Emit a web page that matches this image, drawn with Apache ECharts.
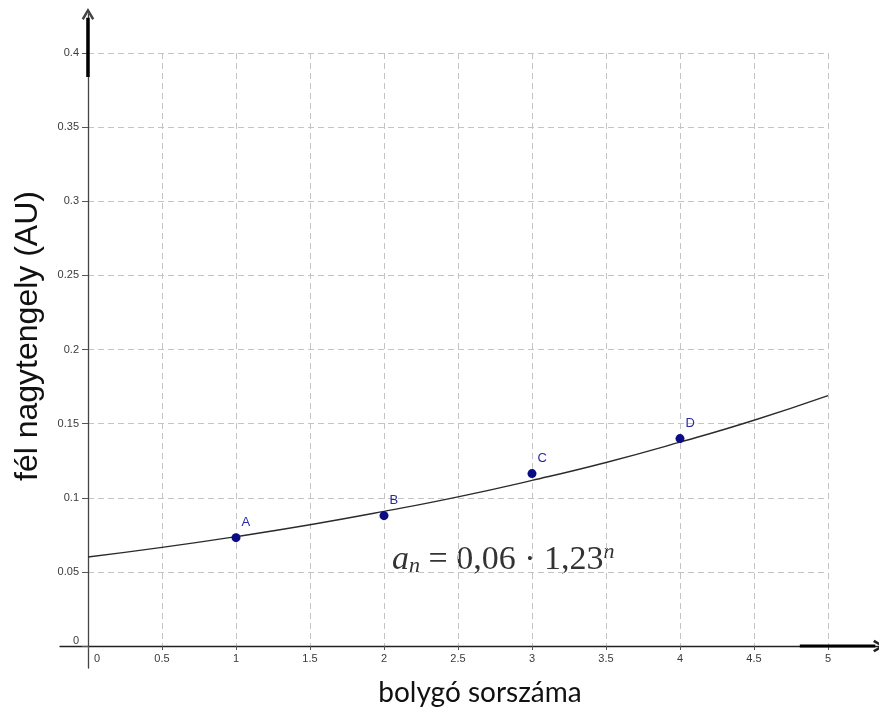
<!DOCTYPE html>
<html>
<head>
<meta charset="utf-8">
<script src="https://cdn.jsdelivr.net/npm/echarts@6/dist/echarts.min.js"></script>
<style>
  html, body { margin: 0; padding: 0; background: #fff; }
  #main { width: 879px; height: 711px; }
</style>
</head>
<body>
<div id="main"></div>
<script>
var myChart = echarts.init(document.getElementById('main'));

// points
var pointNames = ['A', 'B', 'C', 'D'];
var pointX = [1, 2, 3, 4];
var pointY = [0.0731, 0.0879, 0.1163, 0.1399];

// fitted curve a_n = 0,06 * 1,23^n
var curveX = [0, 0.5, 1, 1.5, 2, 2.5, 3, 3.5, 4, 4.5, 5];
var curveY = [0.0600, 0.0665, 0.0738, 0.0818, 0.0908, 0.1006, 0.1117, 0.1238, 0.1375, 0.1523, 0.1689];

// thick arrow shafts of the axes
var yShaft = [[0, 0.384], [0, 0.424]];
var xShaft = [[4.81, 0], [5.32, 0]];

var chevron = 'path://M0,10 L6,0 L12,10 L10,11.5 L6,4.6 L2,11.5 Z';
var tickFont = 'Liberation Sans';

var points = pointX.map(function (x, i) {
  return { name: pointNames[i], value: [x, pointY[i]] };
});
var curve = curveX.map(function (x, i) { return [x, curveY[i]]; });

option = {
  animation: false,
  backgroundColor: '#fff',
  grid: [
    { left: 88, right: 51, top: 53, bottom: 65 },
    { left: 60, right: 0, top: 14, bottom: 43 }
  ],
  xAxis: [{
    type: 'value',
    gridIndex: 0,
    min: 0,
    max: 5,
    interval: 0.5,
    axisLine: { show: false },
    axisTick: { show: true, length: 4, lineStyle: { color: '#555' } },
    axisLabel: {
      margin: 7,
      fontFamily: tickFont,
      fontSize: 11,
      color: '#3a3a3a',
      formatter: function (v) { return v === 0 ? '{z|0}' : String(v); },
      rich: { z: { padding: [0, 0, 0, 18], fontFamily: tickFont, fontSize: 11, color: '#3a3a3a' } }
    },
    splitLine: { show: true, lineStyle: { color: '#c4c4c4', type: [6, 4], width: 1 } }
  }, {
    type: 'value',
    gridIndex: 1,
    min: -0.189,
    max: 5.345,
    axisLine: { show: true, symbol: ['none', chevron], symbolSize: [14, 12], lineStyle: { color: '#222', width: 1.3 } },
    axisTick: { show: false },
    axisLabel: { show: false },
    splitLine: { show: false }
  }],
  yAxis: [{
    type: 'value',
    gridIndex: 0,
    min: 0,
    max: 0.4,
    interval: 0.05,
    axisLine: { show: false },
    axisTick: { show: true, length: 6, lineStyle: { color: '#555' } },
    axisLabel: {
      margin: 9,
      fontFamily: tickFont,
      fontSize: 11,
      color: '#3a3a3a',
      verticalAlignMinLabel: 'bottom'
    },
    splitLine: { show: true, lineStyle: { color: '#c4c4c4', type: [6, 4], width: 1 } }
  }, {
    type: 'value',
    gridIndex: 1,
    min: -0.0148,
    max: 0.4265,
    axisLine: { show: true, symbol: ['none', chevron], symbolSize: [14, 12], lineStyle: { color: '#444', width: 1.3 } },
    axisTick: { show: false },
    axisLabel: { show: false },
    splitLine: { show: false }
  }],
  graphic: [{
    type: 'text',
    x: 28,
    y: 336,
    rotation: Math.PI / 2,
    style: {
      text: 'fél nagytengely (AU)',
      font: '32px "Liberation Sans"',
      fill: '#111',
      align: 'center',
      verticalAlign: 'middle'
    }
  }, {
    type: 'text',
    x: 480,
    y: 693,
    style: {
      text: 'bolygó sorszáma',
      font: '28px Lato',
      fill: '#111',
      align: 'center',
      verticalAlign: 'middle'
    }
  }, {
    type: 'text',
    x: 392,
    y: 560,
    style: {
      text: '{a|a}{s|n}{t| = 0,06 · 1,23}{p|n}',
      fill: '#333',
      verticalAlign: 'middle',
      rich: {
        a: { fontFamily: 'Liberation Serif', fontStyle: 'italic', fontSize: 34, fill: '#333' },
        s: { fontFamily: 'Liberation Serif', fontStyle: 'italic', fontSize: 22, fill: '#333', padding: [13, 0, 0, 0] },
        t: { fontFamily: 'Liberation Serif', fontSize: 34, fill: '#333' },
        p: { fontFamily: 'Liberation Serif', fontStyle: 'italic', fontSize: 22, fill: '#333', padding: [0, 0, 16, 0] }
      }
    }
  }],
  series: [{
    name: 'a_n',
    type: 'line',
    xAxisIndex: 0,
    yAxisIndex: 0,
    data: curve,
    smooth: true,
    showSymbol: false,
    lineStyle: { color: '#2b2b2b', width: 1.4 },
    z: 3
  }, {
    name: 'bolygók',
    type: 'scatter',
    xAxisIndex: 0,
    yAxisIndex: 0,
    data: points,
    symbolSize: 9,
    itemStyle: { color: '#0c0c84', opacity: 1 },
    label: {
      show: true,
      position: [10, -17],
      formatter: '{b}',
      fontFamily: tickFont,
      fontSize: 13,
      color: '#2a2aa0'
    },
    z: 4
  }, {
    name: 'y nyíl',
    type: 'line',
    xAxisIndex: 1,
    yAxisIndex: 1,
    data: yShaft,
    showSymbol: false,
    lineStyle: { color: '#000', width: 3.5 },
    silent: true
  }, {
    name: 'x nyíl',
    type: 'line',
    xAxisIndex: 1,
    yAxisIndex: 1,
    data: xShaft,
    showSymbol: false,
    lineStyle: { color: '#000', width: 3 },
    silent: true
  }]
};

myChart.setOption(option);
</script>
</body>
</html>
